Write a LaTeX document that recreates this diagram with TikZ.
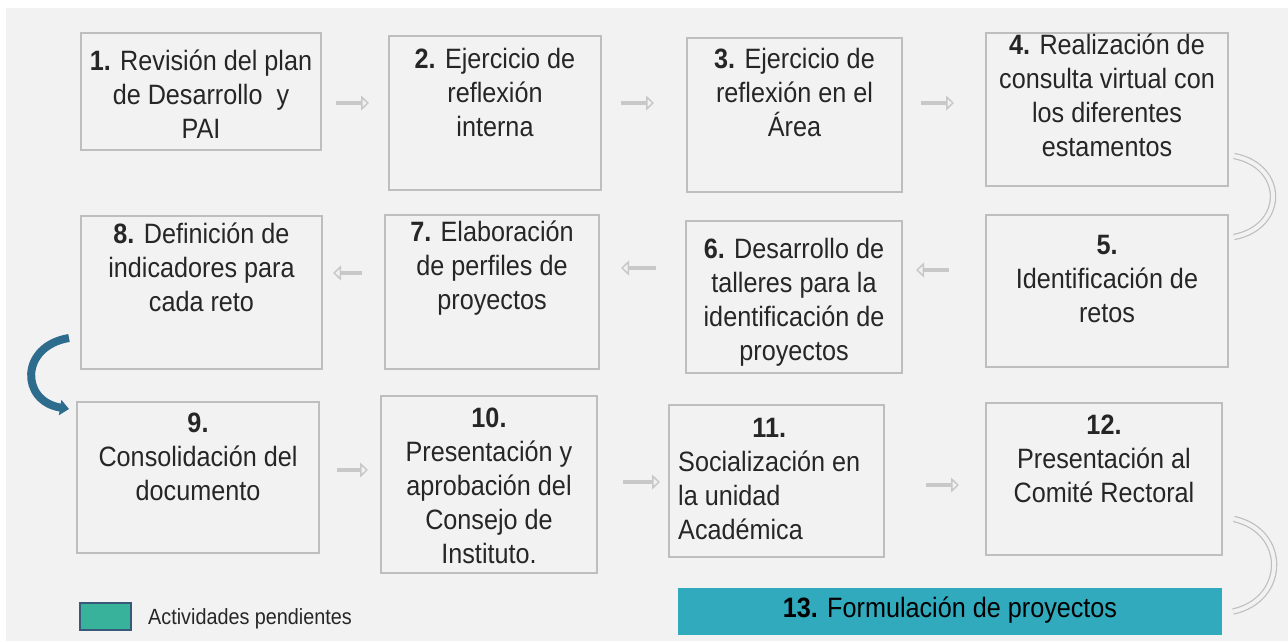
\documentclass[tikz,border=0pt]{standalone}
\usepackage{fontspec}
\setmainfont{Liberation Sans}[FakeStretch=0.9]
\usepackage{xcolor}
\usetikzlibrary{arrows.meta,positioning}

\definecolor{fondo}{HTML}{F2F2F2}
\definecolor{borde}{HTML}{BEBEBE}
\definecolor{gris}{HTML}{C8C8C8}
\definecolor{tinta}{HTML}{262626}
\definecolor{azul}{RGB}{45,108,140}
\definecolor{turquesa}{RGB}{50,170,190}
\definecolor{verde}{RGB}{56,178,155}
\definecolor{verdeborde}{RGB}{56,90,120}

\tikzset{
  paso/.style={draw=borde, line width=2pt, fill=fondo, inner sep=0pt},
  texto/.style={inner sep=0pt, align=center, text=tinta, font=\fontsize{28}{34}\selectfont},
  flecha/.style={draw=gris, line width=4pt, -{Triangle[open,length=8pt,width=15pt,line width=1.5pt]}},
  curva/.style={draw=borde, line width=1.2pt, double=fondo, double distance=4pt},
  vuelta/.style={draw=azul, line width=8pt, -{Triangle[length=9pt,width=15pt]}},
}

\begin{document}
\begin{tikzpicture}[x=1pt,y=-1pt]
\useasboundingbox (0,0) rectangle (1288,641);
\fill[white] (0,0) rectangle (1288,641);
\fill[fondo] (6,8) rectangle (1288,641);

% fila superior
\node[paso, minimum width=240, minimum height=117] (b1) at (201,91.5) {};
\node[paso, minimum width=212, minimum height=154] (b2) at (495,113) {};
\node[paso, minimum width=215, minimum height=154] (b3) at (794.5,115) {};
\node[paso, minimum width=242, minimum height=153] (b4) at (1107,109.5) {};
% fila media
\node[paso, minimum width=242, minimum height=152] (b5) at (1107,291) {};
\node[paso, minimum width=216, minimum height=152] (b6) at (794,297) {};
\node[paso, minimum width=214, minimum height=154] (b7) at (492,292) {};
\node[paso, minimum width=241, minimum height=153] (b8) at (201.5,292.5) {};
% fila inferior
\node[paso, minimum width=242, minimum height=151] (b9) at (198,477.5) {};
\node[paso, minimum width=216, minimum height=177] (b10) at (489,484.5) {};
\node[paso, minimum width=215, minimum height=152] (b11) at (776.5,481) {};
\node[paso, minimum width=236, minimum height=152] (b12) at (1104,479) {};
\node[fill=turquesa, inner sep=0pt, minimum width=544, minimum height=47] (b13) at (950,611.5) {};

\node[texto, below=18pt of b1.north] (t1) {\textbf{1.} Revisión del plan\\de Desarrollo\ \ y\\PAI};
\node[texto, below=13pt of b2.north] (t2) {\textbf{2.} Ejercicio de\\reflexión\\interna};
\node[texto, below=11pt of b3.north] (t3) {\textbf{3.} Ejercicio de\\reflexión en el\\Área};
\node[texto, below=2pt of b4.north] (t4) {\textbf{4.} Realización de\\consulta virtual con\\los diferentes\\estamentos};
\node[texto, below=21pt of b5.north] (t5) {\textbf{5.}\\Identificación de\\retos};
\node[texto, below=18pt of b6.north] (t6) {\textbf{6.} Desarrollo de\\talleres para la\\identificación de\\proyectos};
\node[texto, below=7pt of b7.north] (t7) {\textbf{7.} Elaboración\\de perfiles de\\proyectos};
\node[texto, below=8pt of b8.north] (t8) {\textbf{8.} Definición de\\indicadores para\\cada reto};
\node[texto, below=12pt of b9.north] (t9) {\textbf{9.}\\Consolidación del\\documento};
\node[texto, below=13pt of b10.north] (t10) {\textbf{10.}\\Presentación y\\aprobación del\\Consejo de\\Instituto.};
\node[texto, below right=9pt and 10pt of b11.north west] (t11)
  {\begin{tabular}{@{}l@{}}\multicolumn{1}{@{}c@{}}{\textbf{11.}}\\Socialización en\\la unidad\\Académica\end{tabular}};
\node[texto, below=13pt of b12.north] (t12) {\textbf{12.}\\Presentación al\\Comité Rectoral};
\node[texto, anchor=base, text=black] (t13) at ([yshift=-6pt]b13.center) {\textbf{13.} Formulación de proyectos};

% flechas
\draw[flecha, shorten <=14pt, shorten >=19pt] (b1.east |- 0,103) -- (b2.west |- 0,103);
\draw[flecha, shorten <=19pt, shorten >=32pt] (b2.east |- 0,103) -- (b3.west |- 0,103);
\draw[flecha, shorten <=18pt, shorten >=31pt] (b3.east |- 0,103) -- (b4.west |- 0,103);
\draw[flecha, shorten <=36pt, shorten >=13pt] (b5.west |- 0,270) -- (b6.east |- 0,270);
\draw[flecha, shorten <=29pt, shorten >=21pt] (b6.west |- 0,268) -- (b7.east |- 0,268);
\draw[flecha, shorten <=22pt, shorten >=10pt] (b7.west |- 0,273) -- (b8.east |- 0,273);
\draw[flecha, shorten <=17pt, shorten >=12pt] (b9.east |- 0,470) -- (b10.west |- 0,470);
\draw[flecha, shorten <=25pt, shorten >=8pt] (b10.east |- 0,482) -- (b11.west |- 0,482);
\draw[flecha, shorten <=41pt, shorten >=26pt] (b11.east |- 0,485) -- (b12.west |- 0,485);

\draw[curva] ([xshift=5pt,yshift=31pt]b4.south east) .. controls +(52,10) and +(52,-10) .. ([xshift=5pt,yshift=-23pt]b5.north east);
\draw[curva] ([xshift=11pt,yshift=37pt]b12.south east) .. controls +(54,12) and +(54,-12) .. ([xshift=11pt]b13.east);
\draw[vuelta] ([xshift=-11pt,yshift=32pt]b8.south west) .. controls +(-49,8) and +(-49,-8) .. ([xshift=-7pt,yshift=-8pt]b9.north west);

% leyenda
\node[draw=verdeborde, line width=2pt, fill=verde, minimum width=51, minimum height=27, inner sep=0pt] (leg) at (105.5,616.5) {};
\node[anchor=base west, inner sep=0pt, text=tinta, font=\fontsize{22}{26}\selectfont] (tl) at ([xshift=16pt,yshift=-8pt]leg.east) {Actividades pendientes};
\end{tikzpicture}
\end{document}
